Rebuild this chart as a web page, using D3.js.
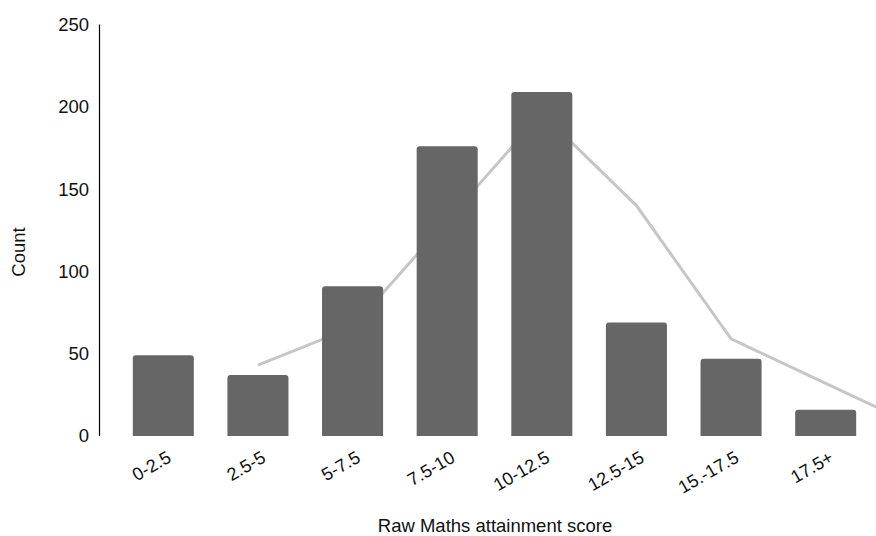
<!DOCTYPE html>
<html>
<head>
<meta charset="utf-8">
<script src="https://cdn.jsdelivr.net/npm/d3@7"></script>
<style>
  body { margin: 0; background: #fff; }
  svg { display: block; font-family: "Liberation Sans", Arial, sans-serif; }
</style>
</head>
<body>
<div id="chart"></div>
<script>
const categories = ["0-2.5", "2.5-5", "5-7.5", "7.5-10", "10-12.5", "12.5-15", "15.-17.5", "17.5+"];
const counts = [49, 37, 91, 176, 209, 69, 47, 16];
// line series starts at the second category and runs past the last one
const lineValues = [null, 43, 66, 131, 196, 140, 59, 32, 5];
const yTicks = [0, 50, 100, 150, 200, 250];

const totalWidth = 876;
const totalHeight = 536;

const svg = d3.select("#chart")
  .append("svg")
  .attr("width", totalWidth)
  .attr("height", totalHeight);

const x = d3.scaleBand()
  .domain(categories)
  .range([116, 873])
  .paddingInner(0.355)
  .paddingOuter(0.1775);

const y = d3.scaleLinear()
  .domain([0, 250])
  .range([436, 24.5]);

const bw = x.bandwidth();
const xLine = d3.scaleLinear()
  .domain([0, categories.length - 1])
  .range([x(categories[0]) + bw / 2, x(categories[categories.length - 1]) + bw / 2]);

// Line (behind bars)
const line = d3.line()
  .defined(d => d != null)
  .x((d, i) => xLine(i))
  .y(d => y(d));

svg.append("path")
  .datum(lineValues)
  .attr("d", line)
  .attr("fill", "none")
  .attr("stroke", "#c6c6c6")
  .attr("stroke-width", 3);

// Bars with rounded top corners
const r = 3;
svg.selectAll("path.bar")
  .data(categories)
  .enter()
  .append("path")
  .attr("class", "bar")
  .attr("fill", "#666666")
  .attr("d", (c, i) => {
    const x0 = x(c), x1 = x0 + bw, y0 = y(counts[i]), yb = y(0);
    return `M${x0},${yb}V${y0 + r}Q${x0},${y0} ${x0 + r},${y0}H${x1 - r}Q${x1},${y0} ${x1},${y0 + r}V${yb}Z`;
  });

// Y axis line
svg.append("line")
  .attr("x1", 99.5).attr("x2", 99.5)
  .attr("y1", y(250)).attr("y2", y(0))
  .attr("stroke", "#000")
  .attr("stroke-width", 1.2);

// Y tick labels
svg.selectAll("text.ytick")
  .data(yTicks)
  .enter()
  .append("text")
  .attr("class", "ytick")
  .attr("x", 89)
  .attr("y", d => y(d))
  .attr("dy", "0.35em")
  .attr("text-anchor", "end")
  .attr("font-size", 18.5)
  .attr("fill", "#111")
  .text(d => d);

// X tick labels
svg.selectAll("text.xtick")
  .data(categories)
  .enter()
  .append("text")
  .attr("class", "xtick")
  .attr("text-anchor", "end")
  .attr("font-size", 18)
  .attr("fill", "#111")
  .attr("transform", c => `translate(${x(c) + bw / 2 + 9},${461}) rotate(-30)`)
  .text(c => c);

// Axis titles
svg.append("text")
  .attr("x", 495)
  .attr("y", 532)
  .attr("text-anchor", "middle")
  .attr("font-size", 18.5)
  .attr("fill", "#111")
  .text("Raw Maths attainment score");

svg.append("text")
  .attr("transform", "rotate(-90)")
  .attr("x", -252)
  .attr("y", 25)
  .attr("text-anchor", "middle")
  .attr("font-size", 18.5)
  .attr("fill", "#111")
  .text("Count");
</script>
</body>
</html>
